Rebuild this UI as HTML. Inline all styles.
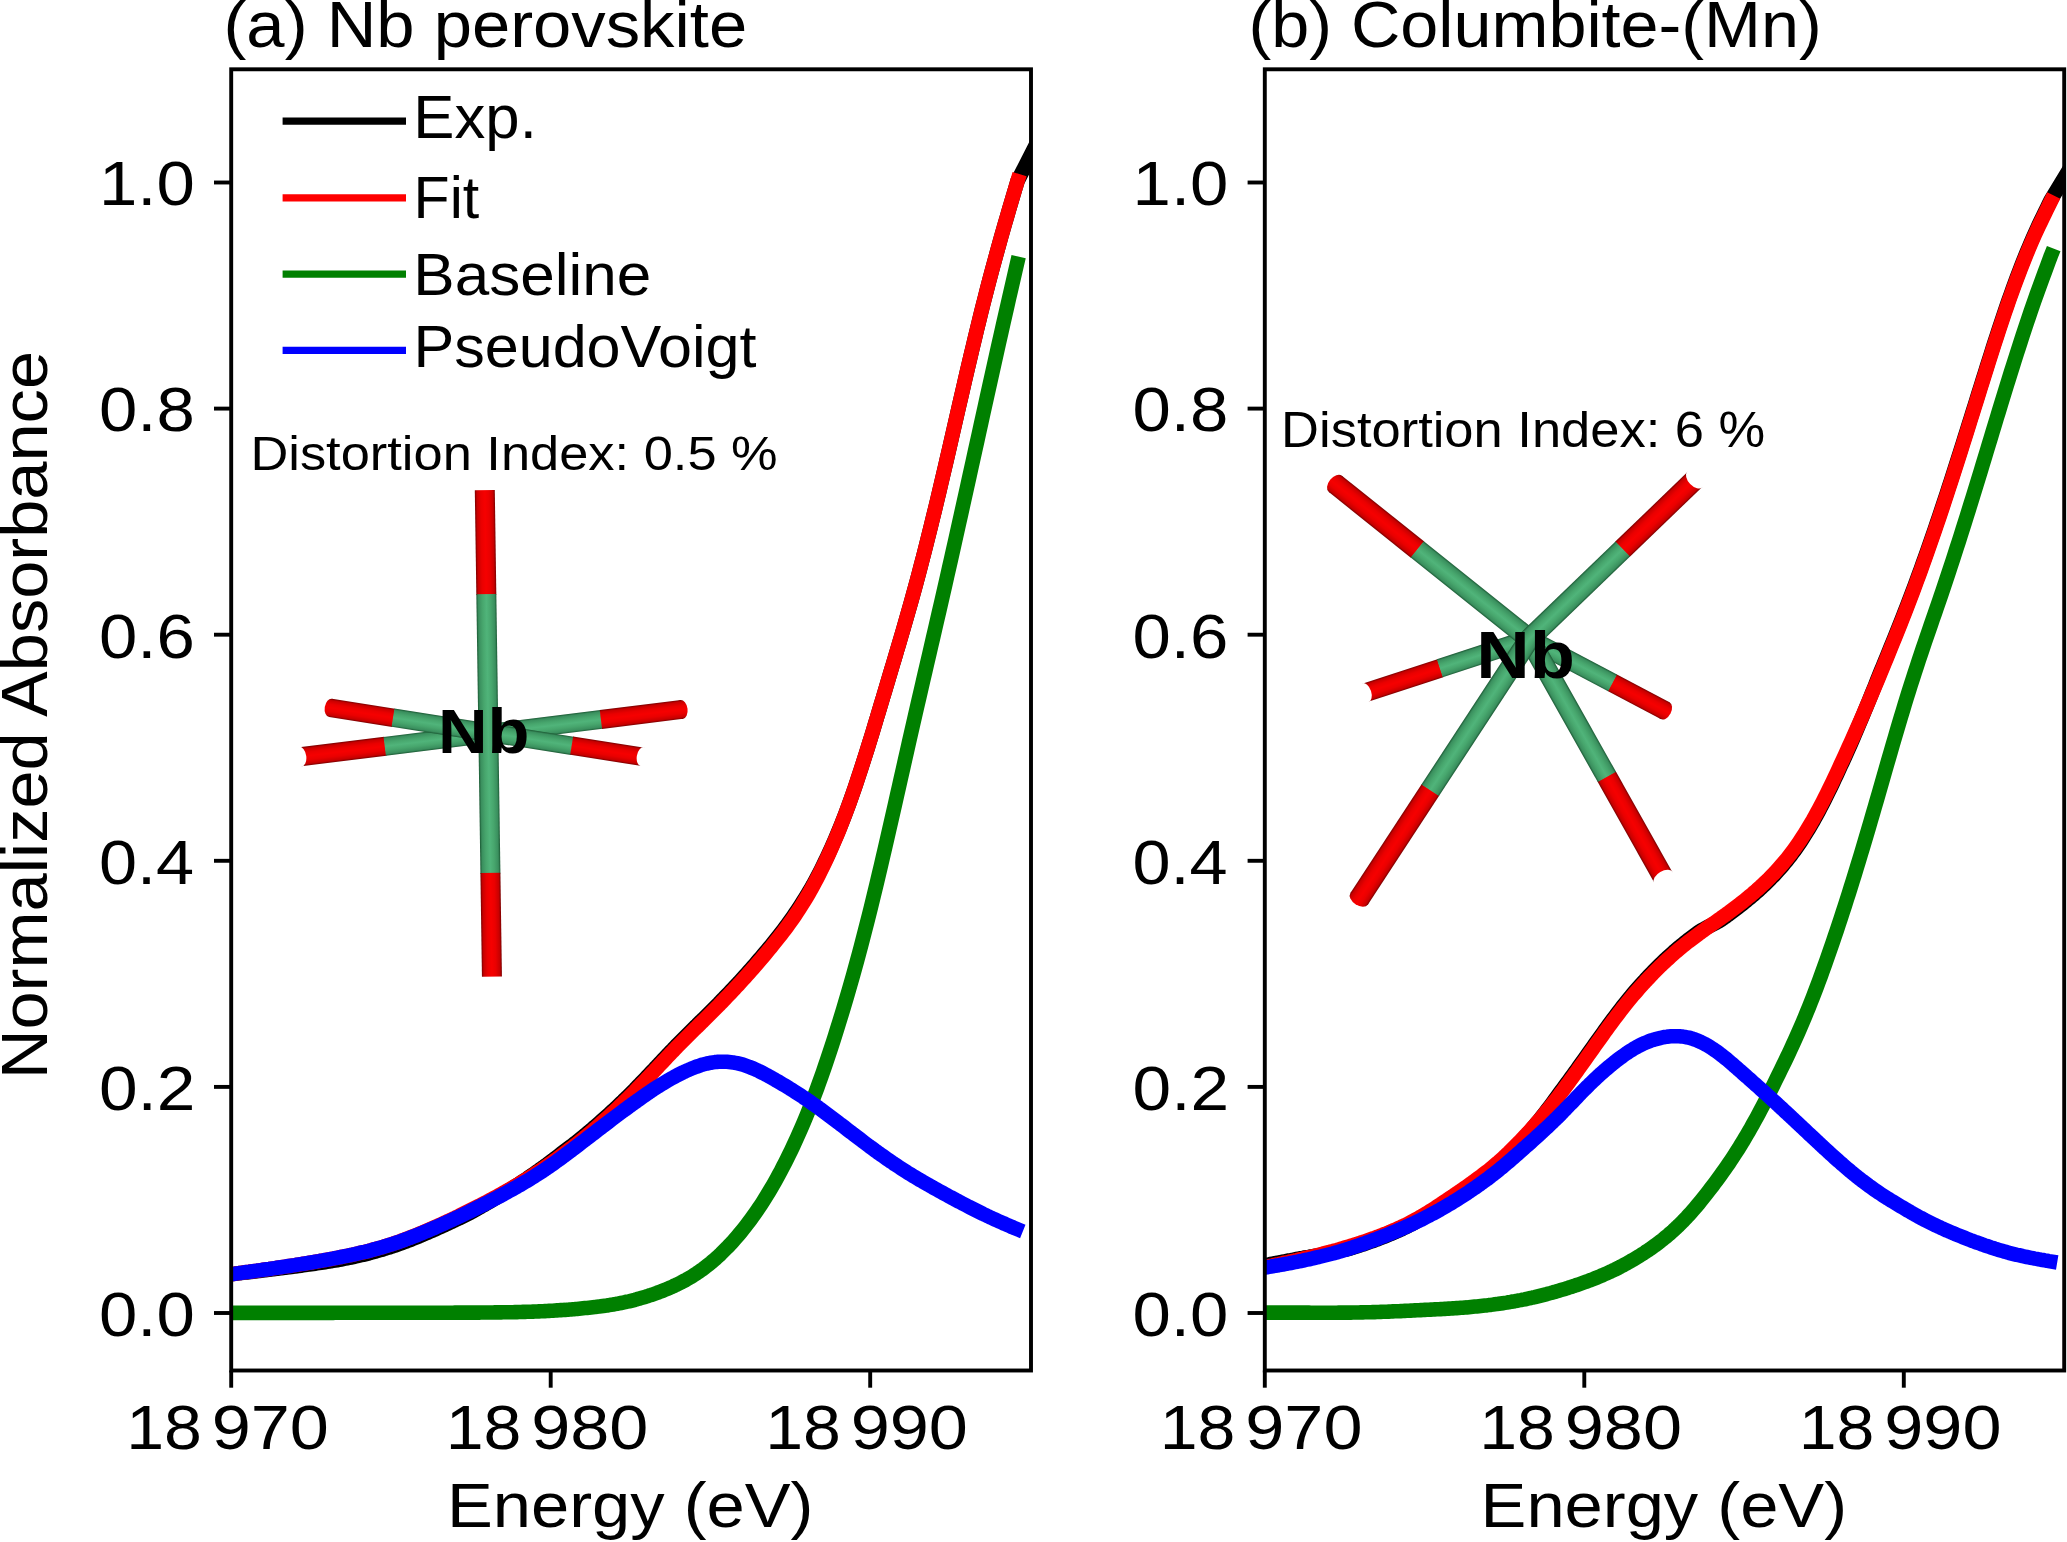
<!DOCTYPE html><html><head><meta charset="utf-8"><style>html,body{margin:0;padding:0;background:#fff;overflow:hidden}svg{display:block}text{font-family:"Liberation Sans",sans-serif;font-size:100px;fill:#000}</style></head><body>
<svg width="2067" height="1542" viewBox="0 0 2067 1542">
<rect width="100%" height="100%" fill="#fff"/>
<defs>
<linearGradient id="gr" x1="0" y1="0" x2="0" y2="1"><stop offset="0" stop-color="#7a0000"/><stop offset="0.1" stop-color="#c80000"/><stop offset="0.3" stop-color="#ea0000"/><stop offset="0.5" stop-color="#f60000"/><stop offset="0.7" stop-color="#ea0000"/><stop offset="0.9" stop-color="#c80000"/><stop offset="1" stop-color="#7a0000"/></linearGradient>
<linearGradient id="gg" x1="0" y1="0" x2="0" y2="1"><stop offset="0" stop-color="#1b5a34"/><stop offset="0.1" stop-color="#3a8f5e"/><stop offset="0.3" stop-color="#47a66d"/><stop offset="0.5" stop-color="#50b47a"/><stop offset="0.7" stop-color="#47a66d"/><stop offset="0.9" stop-color="#3a8f5e"/><stop offset="1" stop-color="#1b5a34"/></linearGradient>

<clipPath id="c0"><rect x="231.2" y="69.3" width="799.8" height="1301.2"/></clipPath>
<clipPath id="c1"><rect x="1264.8" y="69.3" width="799.4" height="1301.2"/></clipPath>
</defs>
<g transform="translate(300.2,756.8) rotate(-7.07)"><rect x="0.0" y="-9.5" width="85.8" height="19.0" fill="url(#gr)"/><rect x="85.2" y="-9.5" width="218.4" height="19.0" fill="url(#gg)"/><rect x="303.0" y="-9.5" width="81.8" height="19.0" fill="url(#gr)"/><ellipse cx="0.0" cy="0" rx="6.1" ry="10.0" fill="#fff"/><ellipse cx="384.2" cy="0" rx="6.1" ry="9.5" fill="url(#gr)"/></g>
<g transform="translate(330.6,707.9) rotate(8.90)"><rect x="0.0" y="-9.2" width="63.8" height="18.5" fill="url(#gr)"/><rect x="63.2" y="-9.2" width="181.4" height="18.5" fill="url(#gg)"/><rect x="244.0" y="-9.2" width="72.5" height="18.5" fill="url(#gr)"/><ellipse cx="0.0" cy="0" rx="5.9" ry="9.2" fill="url(#gr)"/><ellipse cx="315.9" cy="0" rx="5.9" ry="9.8" fill="#fff"/></g>
<g transform="translate(484.8,490.2) rotate(89.16)"><rect x="0.0" y="-10.0" width="104.6" height="20.0" fill="url(#gr)"/><rect x="104.0" y="-10.0" width="279.4" height="20.0" fill="url(#gg)"/><rect x="382.8" y="-10.0" width="103.6" height="20.0" fill="url(#gr)"/></g>
<g transform="translate(1365.2,692.8) rotate(-18.15)"><rect x="0.0" y="-9.5" width="79.1" height="19.0" fill="url(#gr)"/><rect x="78.5" y="-9.5" width="94.8" height="19.0" fill="url(#gg)"/><ellipse cx="0.0" cy="0" rx="6.1" ry="10.0" fill="#fff"/></g>
<g transform="translate(1665.1,710.7) rotate(-152.17)"><rect x="0.0" y="-9.5" width="60.0" height="19.0" fill="url(#gr)"/><rect x="59.4" y="-9.5" width="94.8" height="19.0" fill="url(#gg)"/><ellipse cx="0.0" cy="0" rx="6.1" ry="9.5" fill="url(#gr)"/></g>
<g transform="translate(1335.4,483.9) rotate(38.66)"><rect x="0.0" y="-10.5" width="105.4" height="21.0" fill="url(#gr)"/><rect x="104.8" y="-10.5" width="144.1" height="21.0" fill="url(#gg)"/><ellipse cx="0.0" cy="0" rx="6.7" ry="10.5" fill="url(#gr)"/></g>
<g transform="translate(1663.6,877.8) rotate(-119.35)"><rect x="0.0" y="-10.5" width="116.3" height="21.0" fill="url(#gr)"/><rect x="115.7" y="-10.5" width="158.9" height="21.0" fill="url(#gg)"/><ellipse cx="0.0" cy="0" rx="6.7" ry="11.0" fill="#fff"/></g>
<g transform="translate(1695.0,479.4) rotate(136.07)"><rect x="0.0" y="-10.5" width="100.9" height="21.0" fill="url(#gr)"/><rect x="100.3" y="-10.5" width="130.4" height="21.0" fill="url(#gg)"/><ellipse cx="0.0" cy="0" rx="6.7" ry="11.0" fill="#fff"/></g>
<g transform="translate(1359.2,898.7) rotate(-56.78)"><rect x="0.0" y="-10.5" width="130.2" height="21.0" fill="url(#gr)"/><rect x="129.6" y="-10.5" width="181.4" height="21.0" fill="url(#gg)"/><ellipse cx="0.0" cy="0" rx="6.7" ry="10.5" fill="url(#gr)"/></g>
<polyline clip-path="url(#c0)" points="231.0,1274.2 233.0,1274.0 235.0,1273.8 237.0,1273.5 239.0,1273.3 241.0,1273.1 243.0,1272.8 245.0,1272.6 247.0,1272.4 249.0,1272.2 251.0,1271.9 253.0,1271.7 255.0,1271.5 257.0,1271.2 259.0,1271.0 261.0,1270.7 263.0,1270.5 265.0,1270.3 267.0,1270.0 269.0,1269.8 271.0,1269.5 273.0,1269.3 275.0,1269.0 277.0,1268.8 279.0,1268.5 281.0,1268.3 283.0,1268.0 285.0,1267.8 287.0,1267.5 289.0,1267.3 291.0,1267.0 293.0,1266.7 295.0,1266.5 297.0,1266.2 299.0,1265.9 301.0,1265.7 303.0,1265.4 305.0,1265.1 307.0,1264.8 309.0,1264.6 311.0,1264.3 313.0,1264.0 315.0,1263.7 317.0,1263.4 319.0,1263.1 321.0,1262.8 323.0,1262.5 325.0,1262.2 327.0,1261.9 329.0,1261.6 331.0,1261.2 333.0,1260.9 335.0,1260.6 337.0,1260.3 339.0,1259.9 341.0,1259.5 343.0,1259.1 345.0,1258.7 347.0,1258.3 349.0,1257.9 351.0,1257.5 353.0,1257.1 355.0,1256.6 357.0,1256.2 359.0,1255.7 361.0,1255.2 363.0,1254.8 365.0,1254.3 367.0,1253.8 369.0,1253.3 371.0,1252.7 373.0,1252.2 375.0,1251.7 377.0,1251.1 379.0,1250.5 381.0,1250.0 383.0,1249.4 385.0,1248.7 387.0,1248.1 389.0,1247.5 391.0,1246.8 393.0,1246.2 395.0,1245.5 397.0,1244.8 399.0,1244.1 401.0,1243.4 403.0,1242.6 405.0,1241.9 407.0,1241.1 409.0,1240.4 411.0,1239.6 413.0,1238.8 415.0,1238.0 417.0,1237.2 419.0,1236.4 421.0,1235.5 423.0,1234.7 425.0,1233.8 427.0,1233.0 429.0,1232.1 431.0,1231.2 433.0,1230.4 435.0,1229.5 437.0,1228.6 439.0,1227.7 441.0,1226.8 443.0,1225.9 445.0,1225.0 447.0,1224.0 449.0,1223.1 451.0,1222.2 453.0,1221.2 455.0,1220.3 457.0,1219.3 459.0,1218.4 461.0,1217.4 463.0,1216.4 465.0,1215.4 467.0,1214.4 469.0,1213.4 471.0,1212.4 473.0,1211.3 475.0,1210.2 477.0,1209.0 479.0,1207.9 481.0,1206.8 483.0,1205.6 485.0,1204.5 487.0,1203.3 489.0,1202.2 491.0,1201.0 493.0,1199.8 495.0,1198.6 497.0,1197.4 499.0,1196.2 501.0,1195.0 503.0,1193.8 505.0,1192.6 507.0,1191.4 509.0,1190.1 511.0,1188.9 513.0,1187.6 515.0,1186.3 517.0,1185.0 519.0,1183.8 521.0,1182.4 523.0,1181.1 525.0,1179.8 527.0,1178.5 529.0,1177.1 531.0,1175.7 533.0,1174.4 535.0,1173.0 537.0,1171.6 539.0,1170.2 541.0,1168.7 543.0,1167.3 545.0,1165.8 547.0,1164.4 549.0,1162.9 551.0,1161.4 553.0,1159.9 555.0,1158.3 557.0,1156.8 559.0,1155.3 561.0,1153.7 563.0,1152.2 565.0,1150.7 567.0,1149.2 569.0,1147.7 571.0,1146.2 573.0,1144.6 575.0,1143.0 577.0,1141.5 579.0,1139.9 581.0,1138.2 583.0,1136.6 585.0,1135.0 587.0,1133.3 589.0,1131.6 591.0,1130.0 593.0,1128.3 595.0,1126.5 597.0,1124.8 599.0,1123.1 601.0,1121.3 603.0,1119.5 605.0,1117.7 607.0,1115.9 609.0,1114.1 611.0,1112.3 613.0,1110.4 615.0,1108.6 617.0,1106.7 619.0,1104.8 621.0,1102.9 623.0,1101.0 625.0,1099.0 627.0,1097.1 629.0,1095.1 631.0,1093.1 633.0,1091.1 635.0,1089.1 637.0,1087.0 639.0,1085.0 641.0,1082.9 643.0,1080.8 645.0,1078.7 647.0,1076.6 649.0,1074.5 651.0,1072.4 653.0,1070.3 655.0,1068.1 657.0,1066.0 659.0,1063.8 661.0,1061.7 663.0,1059.6 665.0,1057.5 667.0,1055.3 669.0,1053.2 671.0,1051.1 673.0,1049.1 675.0,1047.0 677.0,1044.9 679.0,1042.9 681.0,1040.9 683.0,1038.9 685.0,1036.9 687.0,1034.9 689.0,1032.9 691.0,1030.9 693.0,1028.9 695.0,1026.9 697.0,1025.0 699.0,1023.0 701.0,1021.0 703.0,1019.1 705.0,1017.1 707.0,1015.1 709.0,1013.1 711.0,1011.1 713.0,1009.1 715.0,1007.1 717.0,1005.1 719.0,1003.1 721.0,1001.0 723.0,999.0 725.0,996.9 727.0,994.8 729.0,992.7 731.0,990.6 733.0,988.5 735.0,986.4 737.0,984.2 739.0,982.1 741.0,979.9 743.0,977.7 745.0,975.5 747.0,973.2 749.0,971.0 751.0,968.7 753.0,966.5 755.0,964.2 757.0,961.9 759.0,959.5 761.0,957.2 763.0,954.9 765.0,952.5 767.0,950.1 769.0,947.7 771.0,945.3 773.0,942.8 775.0,940.3 777.0,937.8 779.0,935.3 781.0,932.7 783.0,930.1 785.0,927.5 787.0,924.8 789.0,922.0 791.0,919.2 793.0,916.4 795.0,913.5 797.0,910.5 799.0,907.5 801.0,904.4 803.0,901.3 805.0,898.1 807.0,894.9 809.0,891.5 811.0,888.1 813.0,884.6 815.0,880.9 817.0,877.2 819.0,873.4 821.0,869.5 823.0,865.4 825.0,861.3 827.0,857.2 829.0,852.9 831.0,848.5 833.0,844.0 835.0,839.4 837.0,834.7 839.0,829.9 841.0,825.0 843.0,820.0 845.0,814.8 847.0,809.5 849.0,804.1 851.0,798.6 853.0,792.9 855.0,787.1 857.0,781.2 859.0,775.1 861.0,769.0 863.0,762.8 865.0,756.6 867.0,750.2 869.0,743.8 871.0,737.3 873.0,730.8 875.0,724.2 877.0,717.5 879.0,710.9 881.0,704.2 883.0,697.5 885.0,690.8 887.0,684.1 889.0,677.4 891.0,670.7 893.0,664.0 895.0,657.3 897.0,650.5 899.0,643.8 901.0,637.0 903.0,630.2 905.0,623.3 907.0,616.3 909.0,609.3 911.0,602.2 913.0,595.0 915.0,587.7 917.0,580.3 919.0,572.8 921.0,565.2 923.0,557.5 925.0,549.7 927.0,541.8 929.0,533.8 931.0,525.8 933.0,517.6 935.0,509.4 937.0,501.1 939.0,492.7 941.0,484.2 943.0,475.7 945.0,467.1 947.0,458.5 949.0,449.8 951.0,441.1 953.0,432.4 955.0,423.6 957.0,414.9 959.0,406.2 961.0,397.5 963.0,388.8 965.0,380.1 967.0,371.5 969.0,363.0 971.0,354.5 973.0,346.1 975.0,337.7 977.0,329.4 979.0,321.2 981.0,313.1 983.0,305.1 985.0,297.2 987.0,289.4 989.0,281.7 991.0,274.1 993.0,266.7 995.0,259.3 997.0,252.0 999.0,244.7 1001.0,237.6 1003.0,230.6 1005.0,223.6 1007.0,216.7 1009.0,209.8 1011.0,203.0 1013.0,196.2 1015.0,189.5 1017.0,182.8 1017.5,181.1 1045.0,127.0" fill="none" stroke="#000" stroke-width="14.6" stroke-linejoin="round" stroke-linecap="square"/>
<polyline clip-path="url(#c0)" points="231.0,1274.2 233.0,1274.0 235.0,1273.7 237.0,1273.4 239.0,1273.1 241.0,1272.9 243.0,1272.6 245.0,1272.3 247.0,1272.0 249.0,1271.8 251.0,1271.5 253.0,1271.2 255.0,1270.9 257.0,1270.7 259.0,1270.4 261.0,1270.1 263.0,1269.8 265.0,1269.5 267.0,1269.2 269.0,1269.0 271.0,1268.7 273.0,1268.4 275.0,1268.1 277.0,1267.8 279.0,1267.5 281.0,1267.2 283.0,1266.9 285.0,1266.6 287.0,1266.3 289.0,1266.0 291.0,1265.7 293.0,1265.4 295.0,1265.1 297.0,1264.8 299.0,1264.5 301.0,1264.1 303.0,1263.8 305.0,1263.5 307.0,1263.2 309.0,1262.8 311.0,1262.5 313.0,1262.2 315.0,1261.8 317.0,1261.5 319.0,1261.1 321.0,1260.8 323.0,1260.4 325.0,1260.1 327.0,1259.7 329.0,1259.3 331.0,1259.0 333.0,1258.6 335.0,1258.2 337.0,1257.8 339.0,1257.4 341.0,1257.0 343.0,1256.6 345.0,1256.2 347.0,1255.8 349.0,1255.4 351.0,1255.0 353.0,1254.6 355.0,1254.1 357.0,1253.7 359.0,1253.2 361.0,1252.7 363.0,1252.3 365.0,1251.8 367.0,1251.3 369.0,1250.8 371.0,1250.2 373.0,1249.7 375.0,1249.2 377.0,1248.6 379.0,1248.0 381.0,1247.5 383.0,1246.9 385.0,1246.2 387.0,1245.6 389.0,1245.0 391.0,1244.3 393.0,1243.7 395.0,1243.0 397.0,1242.3 399.0,1241.6 401.0,1240.9 403.0,1240.1 405.0,1239.4 407.0,1238.6 409.0,1237.9 411.0,1237.1 413.0,1236.3 415.0,1235.5 417.0,1234.7 419.0,1233.9 421.0,1233.0 423.0,1232.2 425.0,1231.3 427.0,1230.5 429.0,1229.6 431.0,1228.7 433.0,1227.9 435.0,1227.0 437.0,1226.1 439.0,1225.2 441.0,1224.3 443.0,1223.4 445.0,1222.5 447.0,1221.5 449.0,1220.6 451.0,1219.7 453.0,1218.7 455.0,1217.8 457.0,1216.8 459.0,1215.9 461.0,1214.9 463.0,1213.9 465.0,1212.9 467.0,1211.9 469.0,1210.9 471.0,1209.9 473.0,1208.9 475.0,1207.9 477.0,1206.9 479.0,1205.9 481.0,1204.8 483.0,1203.8 485.0,1202.7 487.0,1201.7 489.0,1200.6 491.0,1199.6 493.0,1198.5 495.0,1197.4 497.0,1196.3 499.0,1195.2 501.0,1194.1 503.0,1193.0 505.0,1191.8 507.0,1190.7 509.0,1189.6 511.0,1188.4 513.0,1187.3 515.0,1186.1 517.0,1184.9 519.0,1183.7 521.0,1182.5 523.0,1181.3 525.0,1180.1 527.0,1178.8 529.0,1177.6 531.0,1176.3 533.0,1175.0 535.0,1173.7 537.0,1172.4 539.0,1171.1 541.0,1169.8 543.0,1168.4 545.0,1167.1 547.0,1165.7 549.0,1164.3 551.0,1162.9 553.0,1161.5 555.0,1160.1 557.0,1158.7 559.0,1157.2 561.0,1155.7 563.0,1154.2 565.0,1152.7 567.0,1151.2 569.0,1149.7 571.0,1148.2 573.0,1146.6 575.0,1145.0 577.0,1143.5 579.0,1141.9 581.0,1140.2 583.0,1138.6 585.0,1137.0 587.0,1135.3 589.0,1133.6 591.0,1132.0 593.0,1130.3 595.0,1128.5 597.0,1126.8 599.0,1125.1 601.0,1123.3 603.0,1121.5 605.0,1119.7 607.0,1117.9 609.0,1116.1 611.0,1114.3 613.0,1112.4 615.0,1110.6 617.0,1108.7 619.0,1106.8 621.0,1104.9 623.0,1103.0 625.0,1101.0 627.0,1099.1 629.0,1097.1 631.0,1095.1 633.0,1093.1 635.0,1091.1 637.0,1089.0 639.0,1087.0 641.0,1084.9 643.0,1082.8 645.0,1080.7 647.0,1078.6 649.0,1076.5 651.0,1074.4 653.0,1072.3 655.0,1070.1 657.0,1068.0 659.0,1065.8 661.0,1063.7 663.0,1061.6 665.0,1059.5 667.0,1057.3 669.0,1055.2 671.0,1053.1 673.0,1051.1 675.0,1049.0 677.0,1046.9 679.0,1044.9 681.0,1042.9 683.0,1040.9 685.0,1038.9 687.0,1036.9 689.0,1034.9 691.0,1032.9 693.0,1030.9 695.0,1028.9 697.0,1027.0 699.0,1025.0 701.0,1023.0 703.0,1021.1 705.0,1019.1 707.0,1017.1 709.0,1015.1 711.0,1013.1 713.0,1011.1 715.0,1009.1 717.0,1007.1 719.0,1005.1 721.0,1003.0 723.0,1001.0 725.0,998.9 727.0,996.8 729.0,994.7 731.0,992.6 733.0,990.5 735.0,988.4 737.0,986.2 739.0,984.1 741.0,981.9 743.0,979.7 745.0,977.5 747.0,975.2 749.0,973.0 751.0,970.7 753.0,968.5 755.0,966.2 757.0,963.9 759.0,961.5 761.0,959.2 763.0,956.9 765.0,954.5 767.0,952.1 769.0,949.7 771.0,947.3 773.0,944.8 775.0,942.3 777.0,939.8 779.0,937.3 781.0,934.7 783.0,932.1 785.0,929.5 787.0,926.8 789.0,924.0 791.0,921.2 793.0,918.4 795.0,915.5 797.0,912.5 799.0,909.5 801.0,906.4 803.0,903.2 805.0,899.9 807.0,896.6 809.0,893.2 811.0,889.7 813.0,886.0 815.0,882.3 817.0,878.5 819.0,874.6 821.0,870.6 823.0,866.5 825.0,862.3 827.0,858.1 829.0,853.7 831.0,849.3 833.0,844.7 835.0,840.0 837.0,835.3 839.0,830.4 841.0,825.4 843.0,820.2 845.0,815.0 847.0,809.7 849.0,804.2 851.0,798.6 853.0,792.9 855.0,787.1 857.0,781.2 859.0,775.1 861.0,769.0 863.0,762.8 865.0,756.6 867.0,750.2 869.0,743.8 871.0,737.3 873.0,730.8 875.0,724.2 877.0,717.5 879.0,710.9 881.0,704.2 883.0,697.5 885.0,690.8 887.0,684.1 889.0,677.4 891.0,670.7 893.0,664.0 895.0,657.3 897.0,650.5 899.0,643.8 901.0,637.0 903.0,630.2 905.0,623.3 907.0,616.3 909.0,609.3 911.0,602.2 913.0,595.0 915.0,587.7 917.0,580.3 919.0,572.8 921.0,565.2 923.0,557.5 925.0,549.7 927.0,541.8 929.0,533.8 931.0,525.8 933.0,517.6 935.0,509.4 937.0,501.1 939.0,492.7 941.0,484.2 943.0,475.7 945.0,467.1 947.0,458.5 949.0,449.8 951.0,441.1 953.0,432.4 955.0,423.6 957.0,414.9 959.0,406.2 961.0,397.5 963.0,388.8 965.0,380.1 967.0,371.5 969.0,363.0 971.0,354.5 973.0,346.1 975.0,337.7 977.0,329.4 979.0,321.2 981.0,313.1 983.0,305.1 985.0,297.2 987.0,289.4 989.0,281.7 991.0,274.1 993.0,266.7 995.0,259.3 997.0,252.0 999.0,244.7 1001.0,237.6 1003.0,230.6 1005.0,223.6 1007.0,216.7 1009.0,209.8 1011.0,203.0 1013.0,196.2 1015.0,189.5 1017.0,182.8 1017.5,181.1" fill="none" stroke="#f00" stroke-width="14.6" stroke-linejoin="round" stroke-linecap="square"/>
<polyline clip-path="url(#c0)" points="231.0,1312.9 233.0,1312.9 235.0,1312.9 237.0,1312.9 239.0,1312.9 241.0,1312.9 243.0,1312.9 245.0,1312.9 247.0,1312.9 249.0,1312.9 251.0,1312.9 253.0,1312.9 255.0,1312.9 257.0,1312.9 259.0,1312.9 261.0,1312.9 263.0,1312.9 265.0,1312.9 267.0,1312.9 269.0,1312.9 271.0,1312.9 273.0,1312.9 275.0,1312.9 277.0,1312.9 279.0,1312.9 281.0,1312.9 283.0,1312.9 285.0,1312.9 287.0,1312.9 289.0,1312.9 291.0,1312.9 293.0,1312.9 295.0,1312.9 297.0,1312.9 299.0,1312.9 301.0,1312.9 303.0,1312.9 305.0,1312.9 307.0,1312.9 309.0,1312.9 311.0,1312.9 313.0,1312.9 315.0,1312.9 317.0,1312.9 319.0,1312.9 321.0,1312.9 323.0,1312.9 325.0,1312.9 327.0,1312.9 329.0,1312.9 331.0,1312.9 333.0,1312.9 335.0,1312.8 337.0,1312.8 339.0,1312.8 341.0,1312.8 343.0,1312.8 345.0,1312.8 347.0,1312.8 349.0,1312.8 351.0,1312.8 353.0,1312.8 355.0,1312.8 357.0,1312.8 359.0,1312.8 361.0,1312.8 363.0,1312.8 365.0,1312.8 367.0,1312.8 369.0,1312.8 371.0,1312.8 373.0,1312.8 375.0,1312.8 377.0,1312.8 379.0,1312.8 381.0,1312.8 383.0,1312.8 385.0,1312.8 387.0,1312.8 389.0,1312.8 391.0,1312.7 393.0,1312.7 395.0,1312.7 397.0,1312.7 399.0,1312.7 401.0,1312.7 403.0,1312.7 405.0,1312.7 407.0,1312.7 409.0,1312.7 411.0,1312.7 413.0,1312.7 415.0,1312.7 417.0,1312.7 419.0,1312.7 421.0,1312.7 423.0,1312.7 425.0,1312.7 427.0,1312.7 429.0,1312.7 431.0,1312.7 433.0,1312.7 435.0,1312.7 437.0,1312.7 439.0,1312.7 441.0,1312.7 443.0,1312.7 445.0,1312.7 447.0,1312.7 449.0,1312.7 451.0,1312.7 453.0,1312.7 455.0,1312.6 457.0,1312.6 459.0,1312.6 461.0,1312.6 463.0,1312.6 465.0,1312.6 467.0,1312.6 469.0,1312.6 471.0,1312.6 473.0,1312.6 475.0,1312.6 477.0,1312.6 479.0,1312.6 481.0,1312.5 483.0,1312.5 485.0,1312.5 487.0,1312.5 489.0,1312.5 491.0,1312.5 493.0,1312.5 495.0,1312.4 497.0,1312.4 499.0,1312.4 501.0,1312.4 503.0,1312.3 505.0,1312.3 507.0,1312.3 509.0,1312.3 511.0,1312.2 513.0,1312.2 515.0,1312.1 517.0,1312.1 519.0,1312.0 521.0,1312.0 523.0,1311.9 525.0,1311.9 527.0,1311.8 529.0,1311.8 531.0,1311.7 533.0,1311.6 535.0,1311.5 537.0,1311.5 539.0,1311.4 541.0,1311.3 543.0,1311.2 545.0,1311.1 547.0,1311.0 549.0,1310.9 551.0,1310.8 553.0,1310.7 555.0,1310.5 557.0,1310.4 559.0,1310.3 561.0,1310.1 563.0,1310.0 565.0,1309.9 567.0,1309.7 569.0,1309.6 571.0,1309.4 573.0,1309.2 575.0,1309.1 577.0,1308.9 579.0,1308.7 581.0,1308.5 583.0,1308.3 585.0,1308.1 587.0,1307.9 589.0,1307.7 591.0,1307.5 593.0,1307.3 595.0,1307.1 597.0,1306.8 599.0,1306.6 601.0,1306.3 603.0,1306.0 605.0,1305.7 607.0,1305.5 609.0,1305.1 611.0,1304.8 613.0,1304.5 615.0,1304.1 617.0,1303.8 619.0,1303.4 621.0,1303.0 623.0,1302.6 625.0,1302.2 627.0,1301.7 629.0,1301.3 631.0,1300.8 633.0,1300.3 635.0,1299.8 637.0,1299.2 639.0,1298.7 641.0,1298.1 643.0,1297.5 645.0,1296.9 647.0,1296.3 649.0,1295.6 651.0,1295.0 653.0,1294.3 655.0,1293.6 657.0,1292.9 659.0,1292.1 661.0,1291.4 663.0,1290.6 665.0,1289.8 667.0,1289.0 669.0,1288.1 671.0,1287.3 673.0,1286.4 675.0,1285.4 677.0,1284.5 679.0,1283.5 681.0,1282.5 683.0,1281.4 685.0,1280.4 687.0,1279.2 689.0,1278.1 691.0,1276.9 693.0,1275.7 695.0,1274.4 697.0,1273.1 699.0,1271.7 701.0,1270.3 703.0,1268.9 705.0,1267.4 707.0,1265.8 709.0,1264.2 711.0,1262.6 713.0,1260.9 715.0,1259.2 717.0,1257.4 719.0,1255.6 721.0,1253.7 723.0,1251.7 725.0,1249.7 727.0,1247.7 729.0,1245.6 731.0,1243.5 733.0,1241.3 735.0,1239.0 737.0,1236.7 739.0,1234.4 741.0,1232.0 743.0,1229.5 745.0,1227.0 747.0,1224.4 749.0,1221.8 751.0,1219.1 753.0,1216.3 755.0,1213.5 757.0,1210.6 759.0,1207.7 761.0,1204.7 763.0,1201.6 765.0,1198.4 767.0,1195.2 769.0,1191.9 771.0,1188.5 773.0,1185.1 775.0,1181.6 777.0,1178.0 779.0,1174.3 781.0,1170.6 783.0,1166.7 785.0,1162.8 787.0,1158.9 789.0,1154.8 791.0,1150.7 793.0,1146.5 795.0,1142.2 797.0,1137.8 799.0,1133.3 801.0,1128.8 803.0,1124.1 805.0,1119.4 807.0,1114.5 809.0,1109.5 811.0,1104.5 813.0,1099.3 815.0,1094.0 817.0,1088.6 819.0,1083.1 821.0,1077.5 823.0,1071.8 825.0,1066.0 827.0,1060.1 829.0,1054.1 831.0,1048.1 833.0,1041.9 835.0,1035.7 837.0,1029.3 839.0,1022.9 841.0,1016.4 843.0,1009.9 845.0,1003.2 847.0,996.4 849.0,989.5 851.0,982.5 853.0,975.5 855.0,968.3 857.0,961.0 859.0,953.6 861.0,946.1 863.0,938.4 865.0,930.7 867.0,922.9 869.0,914.9 871.0,906.9 873.0,898.8 875.0,890.5 877.0,882.2 879.0,873.8 881.0,865.3 883.0,856.7 885.0,848.1 887.0,839.4 889.0,830.7 891.0,821.9 893.0,813.1 895.0,804.3 897.0,795.4 899.0,786.6 901.0,777.7 903.0,768.8 905.0,759.9 907.0,751.1 909.0,742.2 911.0,733.4 913.0,724.7 915.0,715.9 917.0,707.2 919.0,698.5 921.0,689.8 923.0,681.1 925.0,672.5 927.0,663.9 929.0,655.3 931.0,646.7 933.0,638.0 935.0,629.4 937.0,620.7 939.0,612.0 941.0,603.3 943.0,594.6 945.0,585.8 947.0,577.0 949.0,568.1 951.0,559.3 953.0,550.4 955.0,541.5 957.0,532.5 959.0,523.5 961.0,514.6 963.0,505.5 965.0,496.5 967.0,487.5 969.0,478.4 971.0,469.3 973.0,460.2 975.0,451.2 977.0,442.1 979.0,433.0 981.0,423.9 983.0,414.8 985.0,405.7 987.0,396.7 989.0,387.6 991.0,378.6 993.0,369.6 995.0,360.6 997.0,351.6 999.0,342.7 1001.0,333.8 1003.0,324.9 1005.0,316.1 1007.0,307.3 1009.0,298.5 1011.0,289.8 1013.0,281.1 1015.0,272.4 1017.0,263.7" fill="none" stroke="#008000" stroke-width="14.6" stroke-linejoin="round" stroke-linecap="square"/>
<polyline clip-path="url(#c0)" points="231.0,1274.2 233.0,1273.9 235.0,1273.7 237.0,1273.4 239.0,1273.1 241.0,1272.9 243.0,1272.6 245.0,1272.3 247.0,1272.0 249.0,1271.8 251.0,1271.5 253.0,1271.2 255.0,1270.9 257.0,1270.6 259.0,1270.4 261.0,1270.1 263.0,1269.8 265.0,1269.5 267.0,1269.2 269.0,1269.0 271.0,1268.7 273.0,1268.4 275.0,1268.1 277.0,1267.8 279.0,1267.5 281.0,1267.2 283.0,1266.9 285.0,1266.6 287.0,1266.3 289.0,1266.0 291.0,1265.7 293.0,1265.4 295.0,1265.1 297.0,1264.7 299.0,1264.4 301.0,1264.1 303.0,1263.8 305.0,1263.5 307.0,1263.1 309.0,1262.8 311.0,1262.5 313.0,1262.1 315.0,1261.8 317.0,1261.4 319.0,1261.1 321.0,1260.7 323.0,1260.4 325.0,1260.0 327.0,1259.7 329.0,1259.3 331.0,1258.9 333.0,1258.6 335.0,1258.2 337.0,1257.8 339.0,1257.4 341.0,1257.0 343.0,1256.6 345.0,1256.2 347.0,1255.8 349.0,1255.4 351.0,1255.0 353.0,1254.5 355.0,1254.1 357.0,1253.6 359.0,1253.2 361.0,1252.7 363.0,1252.2 365.0,1251.8 367.0,1251.3 369.0,1250.8 371.0,1250.3 373.0,1249.7 375.0,1249.2 377.0,1248.7 379.0,1248.1 381.0,1247.5 383.0,1246.9 385.0,1246.3 387.0,1245.7 389.0,1245.1 391.0,1244.5 393.0,1243.8 395.0,1243.2 397.0,1242.5 399.0,1241.8 401.0,1241.1 403.0,1240.4 405.0,1239.6 407.0,1238.9 409.0,1238.2 411.0,1237.4 413.0,1236.6 415.0,1235.9 417.0,1235.1 419.0,1234.3 421.0,1233.5 423.0,1232.6 425.0,1231.8 427.0,1231.0 429.0,1230.1 431.0,1229.3 433.0,1228.4 435.0,1227.6 437.0,1226.7 439.0,1225.8 441.0,1224.9 443.0,1224.0 445.0,1223.1 447.0,1222.2 449.0,1221.3 451.0,1220.4 453.0,1219.5 455.0,1218.5 457.0,1217.6 459.0,1216.7 461.0,1215.7 463.0,1214.8 465.0,1213.8 467.0,1212.8 469.0,1211.9 471.0,1210.9 473.0,1209.9 475.0,1208.9 477.0,1207.9 479.0,1206.9 481.0,1205.9 483.0,1204.9 485.0,1203.9 487.0,1202.9 489.0,1201.8 491.0,1200.8 493.0,1199.8 495.0,1198.7 497.0,1197.7 499.0,1196.6 501.0,1195.6 503.0,1194.5 505.0,1193.4 507.0,1192.3 509.0,1191.2 511.0,1190.1 513.0,1189.0 515.0,1187.9 517.0,1186.8 519.0,1185.6 521.0,1184.5 523.0,1183.3 525.0,1182.1 527.0,1180.9 529.0,1179.7 531.0,1178.5 533.0,1177.2 535.0,1176.0 537.0,1174.7 539.0,1173.4 541.0,1172.1 543.0,1170.8 545.0,1169.4 547.0,1168.1 549.0,1166.7 551.0,1165.3 553.0,1163.9 555.0,1162.5 557.0,1161.0 559.0,1159.6 561.0,1158.1 563.0,1156.6 565.0,1155.2 567.0,1153.7 569.0,1152.2 571.0,1150.7 573.0,1149.1 575.0,1147.6 577.0,1146.1 579.0,1144.6 581.0,1143.0 583.0,1141.5 585.0,1140.0 587.0,1138.4 589.0,1136.9 591.0,1135.4 593.0,1133.8 595.0,1132.3 597.0,1130.7 599.0,1129.2 601.0,1127.7 603.0,1126.1 605.0,1124.6 607.0,1123.1 609.0,1121.6 611.0,1120.0 613.0,1118.5 615.0,1117.0 617.0,1115.5 619.0,1114.0 621.0,1112.5 623.0,1111.0 625.0,1109.6 627.0,1108.1 629.0,1106.6 631.0,1105.2 633.0,1103.7 635.0,1102.3 637.0,1100.8 639.0,1099.4 641.0,1098.0 643.0,1096.6 645.0,1095.2 647.0,1093.8 649.0,1092.4 651.0,1091.1 653.0,1089.7 655.0,1088.4 657.0,1087.1 659.0,1085.9 661.0,1084.6 663.0,1083.4 665.0,1082.2 667.0,1081.0 669.0,1079.8 671.0,1078.7 673.0,1077.6 675.0,1076.5 677.0,1075.4 679.0,1074.4 681.0,1073.4 683.0,1072.4 685.0,1071.5 687.0,1070.5 689.0,1069.7 691.0,1068.8 693.0,1068.0 695.0,1067.2 697.0,1066.5 699.0,1065.8 701.0,1065.1 703.0,1064.5 705.0,1064.0 707.0,1063.5 709.0,1063.1 711.0,1062.7 713.0,1062.4 715.0,1062.1 717.0,1061.9 719.0,1061.8 721.0,1061.7 723.0,1061.7 725.0,1061.7 727.0,1061.8 729.0,1062.0 731.0,1062.2 733.0,1062.4 735.0,1062.8 737.0,1063.2 739.0,1063.7 741.0,1064.2 743.0,1064.7 745.0,1065.4 747.0,1066.1 749.0,1066.8 751.0,1067.6 753.0,1068.4 755.0,1069.2 757.0,1070.2 759.0,1071.1 761.0,1072.1 763.0,1073.1 765.0,1074.2 767.0,1075.2 769.0,1076.3 771.0,1077.4 773.0,1078.6 775.0,1079.7 777.0,1080.9 779.0,1082.0 781.0,1083.2 783.0,1084.4 785.0,1085.6 787.0,1086.8 789.0,1088.0 791.0,1089.3 793.0,1090.5 795.0,1091.8 797.0,1093.1 799.0,1094.4 801.0,1095.7 803.0,1097.0 805.0,1098.4 807.0,1099.7 809.0,1101.1 811.0,1102.5 813.0,1103.9 815.0,1105.3 817.0,1106.7 819.0,1108.2 821.0,1109.6 823.0,1111.1 825.0,1112.6 827.0,1114.1 829.0,1115.6 831.0,1117.1 833.0,1118.6 835.0,1120.1 837.0,1121.6 839.0,1123.1 841.0,1124.7 843.0,1126.2 845.0,1127.7 847.0,1129.3 849.0,1130.8 851.0,1132.3 853.0,1133.9 855.0,1135.4 857.0,1136.9 859.0,1138.4 861.0,1139.9 863.0,1141.5 865.0,1143.0 867.0,1144.5 869.0,1146.0 871.0,1147.4 873.0,1148.9 875.0,1150.4 877.0,1151.8 879.0,1153.3 881.0,1154.7 883.0,1156.1 885.0,1157.5 887.0,1158.9 889.0,1160.3 891.0,1161.7 893.0,1163.0 895.0,1164.4 897.0,1165.7 899.0,1167.0 901.0,1168.3 903.0,1169.6 905.0,1170.9 907.0,1172.2 909.0,1173.4 911.0,1174.6 913.0,1175.9 915.0,1177.1 917.0,1178.3 919.0,1179.5 921.0,1180.6 923.0,1181.8 925.0,1182.9 927.0,1184.1 929.0,1185.2 931.0,1186.3 933.0,1187.5 935.0,1188.6 937.0,1189.7 939.0,1190.8 941.0,1191.9 943.0,1193.0 945.0,1194.1 947.0,1195.2 949.0,1196.3 951.0,1197.4 953.0,1198.4 955.0,1199.5 957.0,1200.6 959.0,1201.6 961.0,1202.7 963.0,1203.8 965.0,1204.8 967.0,1205.8 969.0,1206.9 971.0,1207.9 973.0,1208.9 975.0,1209.9 977.0,1210.9 979.0,1211.9 981.0,1212.9 983.0,1213.9 985.0,1214.8 987.0,1215.8 989.0,1216.7 991.0,1217.7 993.0,1218.6 995.0,1219.5 997.0,1220.4 999.0,1221.3 1001.0,1222.2 1003.0,1223.1 1005.0,1223.9 1007.0,1224.8 1009.0,1225.7 1011.0,1226.6 1013.0,1227.4 1015.0,1228.3 1016.0,1228.7" fill="none" stroke="#00f" stroke-width="14.6" stroke-linejoin="round" stroke-linecap="square"/>
<polyline clip-path="url(#c1)" points="1264.8,1265.1 1266.8,1264.7 1268.8,1264.4 1270.8,1264.0 1272.8,1263.6 1274.8,1263.2 1276.8,1262.8 1278.8,1262.5 1280.8,1262.1 1282.8,1261.7 1284.8,1261.3 1286.8,1260.9 1288.8,1260.5 1290.8,1260.2 1292.8,1259.8 1294.8,1259.4 1296.8,1259.0 1298.8,1258.6 1300.8,1258.2 1302.8,1257.9 1304.8,1257.5 1306.8,1257.2 1308.8,1256.9 1310.8,1256.5 1312.8,1256.2 1314.8,1255.8 1316.8,1255.5 1318.8,1255.1 1320.8,1254.7 1322.8,1254.3 1324.8,1254.0 1326.8,1253.6 1328.8,1253.2 1330.8,1252.8 1332.8,1252.4 1334.8,1251.9 1336.8,1251.5 1338.8,1251.1 1340.8,1250.7 1342.8,1250.2 1344.8,1249.8 1346.8,1249.3 1348.8,1248.8 1350.8,1248.3 1352.8,1247.7 1354.8,1247.1 1356.8,1246.4 1358.8,1245.8 1360.8,1245.1 1362.8,1244.5 1364.8,1243.8 1366.8,1243.1 1368.8,1242.4 1370.8,1241.7 1372.8,1241.0 1374.8,1240.3 1376.8,1239.5 1378.8,1238.8 1380.8,1238.0 1382.8,1237.2 1384.8,1236.5 1386.8,1235.7 1388.8,1234.8 1390.8,1234.0 1392.8,1233.1 1394.8,1232.3 1396.8,1231.4 1398.8,1230.5 1400.8,1229.6 1402.8,1228.6 1404.8,1227.7 1406.8,1226.7 1408.8,1225.7 1410.8,1224.6 1412.8,1223.6 1414.8,1222.5 1416.8,1221.4 1418.8,1220.3 1420.8,1219.1 1422.8,1218.0 1424.8,1216.8 1426.8,1215.6 1428.8,1214.3 1430.8,1213.1 1432.8,1211.8 1434.8,1210.5 1436.8,1209.2 1438.8,1207.9 1440.8,1206.6 1442.8,1205.2 1444.8,1203.9 1446.8,1202.6 1448.8,1201.2 1450.8,1199.9 1452.8,1198.5 1454.8,1197.2 1456.8,1195.8 1458.8,1194.4 1460.8,1193.1 1462.8,1191.7 1464.8,1190.3 1466.8,1188.9 1468.8,1187.5 1470.8,1186.1 1472.8,1184.6 1474.8,1183.2 1476.8,1181.7 1478.8,1180.2 1480.8,1178.8 1482.8,1177.2 1484.8,1175.7 1486.8,1174.2 1488.8,1172.6 1490.8,1171.0 1492.8,1169.3 1494.8,1167.6 1496.8,1165.9 1498.8,1164.2 1500.8,1162.4 1502.8,1160.4 1504.8,1158.5 1506.8,1156.4 1508.8,1154.4 1510.8,1152.3 1512.8,1150.2 1514.8,1148.1 1516.8,1145.9 1518.8,1143.8 1520.8,1141.6 1522.8,1139.3 1524.8,1137.1 1526.8,1134.8 1528.8,1132.5 1530.8,1130.2 1532.8,1127.8 1534.8,1125.4 1536.8,1123.0 1538.8,1120.6 1540.8,1118.1 1542.8,1115.5 1544.8,1112.9 1546.8,1110.3 1548.8,1107.7 1550.8,1105.0 1552.8,1102.3 1554.8,1099.5 1556.8,1096.8 1558.8,1094.0 1560.8,1091.2 1562.8,1088.6 1564.8,1085.9 1566.8,1083.2 1568.8,1080.4 1570.8,1077.7 1572.8,1074.9 1574.8,1072.2 1576.8,1069.4 1578.8,1066.6 1580.8,1063.8 1582.8,1061.0 1584.8,1058.2 1586.8,1055.3 1588.8,1052.5 1590.8,1049.7 1592.8,1046.9 1594.8,1044.1 1596.8,1041.3 1598.8,1038.5 1600.8,1035.7 1602.8,1032.9 1604.8,1030.1 1606.8,1027.4 1608.8,1024.6 1610.8,1021.9 1612.8,1019.2 1614.8,1016.5 1616.8,1013.8 1618.8,1011.2 1620.8,1008.6 1622.8,1006.0 1624.8,1003.5 1626.8,1001.0 1628.8,998.5 1630.8,996.1 1632.8,993.7 1634.8,991.4 1636.8,989.1 1638.8,986.8 1640.8,984.5 1642.8,982.3 1644.8,980.2 1646.8,978.0 1648.8,975.9 1650.8,973.8 1652.8,971.7 1654.8,969.7 1656.8,967.7 1658.8,965.7 1660.8,963.7 1662.8,961.8 1664.8,959.9 1666.8,958.0 1668.8,956.2 1670.8,954.4 1672.8,952.6 1674.8,950.8 1676.8,949.1 1678.8,947.4 1680.8,945.7 1682.8,944.1 1684.8,942.5 1686.8,940.9 1688.8,939.3 1690.8,937.8 1692.8,936.3 1694.8,934.8 1696.8,933.3 1698.8,931.8 1700.8,930.5 1702.8,929.5 1704.8,928.5 1706.8,927.4 1708.8,926.4 1710.8,925.4 1712.8,924.4 1714.8,923.4 1716.8,922.4 1718.8,921.3 1720.8,920.2 1722.8,918.7 1724.8,917.3 1726.8,915.8 1728.8,914.4 1730.8,912.9 1732.8,911.4 1734.8,909.9 1736.8,908.4 1738.8,906.9 1740.8,905.3 1742.8,903.7 1744.8,902.1 1746.8,900.5 1748.8,898.8 1750.8,897.2 1752.8,895.5 1754.8,893.7 1756.8,892.0 1758.8,890.2 1760.8,888.4 1762.8,886.5 1764.8,884.6 1766.8,882.7 1768.8,880.8 1770.8,878.7 1772.8,876.7 1774.8,874.6 1776.8,872.4 1778.8,870.2 1780.8,867.9 1782.8,865.6 1784.8,863.2 1786.8,860.8 1788.8,858.3 1790.8,855.7 1792.8,853.0 1794.8,850.3 1796.8,847.5 1798.8,844.6 1800.8,841.6 1802.8,838.5 1804.8,835.4 1806.8,832.2 1808.8,828.9 1810.8,825.5 1812.8,822.1 1814.8,818.5 1816.8,814.9 1818.8,811.2 1820.8,807.4 1822.8,803.6 1824.8,799.7 1826.8,795.6 1828.8,791.6 1830.8,787.5 1832.8,783.3 1834.8,779.0 1836.8,774.8 1838.8,770.5 1840.8,766.1 1842.8,761.8 1844.8,757.4 1846.8,753.0 1848.8,748.6 1850.8,744.1 1852.8,739.4 1854.8,734.7 1856.8,729.9 1858.8,725.2 1860.8,720.4 1862.8,715.6 1864.8,710.7 1866.8,705.9 1868.8,701.0 1870.8,696.0 1872.8,691.1 1874.8,686.1 1876.8,681.0 1878.8,676.0 1880.8,671.0 1882.8,666.2 1884.8,661.3 1886.8,656.4 1888.8,651.5 1890.8,646.6 1892.8,641.6 1894.8,636.7 1896.8,631.7 1898.8,626.7 1900.8,621.7 1902.8,616.6 1904.8,611.5 1906.8,606.3 1908.8,601.1 1910.8,595.9 1912.8,590.6 1914.8,585.2 1916.8,579.8 1918.8,574.4 1920.8,568.9 1922.8,563.3 1924.8,557.8 1926.8,552.1 1928.8,546.4 1930.8,540.7 1932.8,534.9 1934.8,529.1 1936.8,523.2 1938.8,517.3 1940.8,511.4 1942.8,505.4 1944.8,499.3 1946.8,493.3 1948.8,487.1 1950.8,481.0 1952.8,474.8 1954.8,468.6 1956.8,462.3 1958.8,456.0 1960.8,449.7 1962.8,443.4 1964.8,437.0 1966.8,430.7 1968.8,424.3 1970.8,417.9 1972.8,411.5 1974.8,405.1 1976.8,398.7 1978.8,392.3 1980.8,385.9 1982.8,379.5 1984.8,373.1 1986.8,366.7 1988.8,360.4 1990.8,354.1 1992.8,347.8 1994.8,341.6 1996.8,335.4 1998.8,329.3 2000.8,323.3 2002.8,317.3 2004.8,311.3 2006.8,305.5 2008.8,299.7 2010.8,294.1 2012.8,288.5 2014.8,283.0 2016.8,277.6 2018.8,272.3 2020.8,267.1 2022.8,262.0 2024.8,257.0 2026.8,252.1 2028.8,247.3 2030.8,242.5 2032.8,237.9 2034.8,233.4 2036.8,229.0 2038.8,224.7 2040.8,220.5 2042.8,216.3 2044.8,212.2 2046.8,208.1 2048.8,204.0 2050.5,200.6 2075.0,160.0" fill="none" stroke="#000" stroke-width="14.6" stroke-linejoin="round" stroke-linecap="square"/>
<polyline clip-path="url(#c1)" points="1264.8,1267.1 1266.8,1266.7 1268.8,1266.2 1270.8,1265.8 1272.8,1265.4 1274.8,1264.9 1276.8,1264.5 1278.8,1264.1 1280.8,1263.6 1282.8,1263.2 1284.8,1262.7 1286.8,1262.3 1288.8,1261.9 1290.8,1261.4 1292.8,1261.0 1294.8,1260.5 1296.8,1260.1 1298.8,1259.6 1300.8,1259.1 1302.8,1258.7 1304.8,1258.2 1306.8,1257.7 1308.8,1257.2 1310.8,1256.8 1312.8,1256.3 1314.8,1255.8 1316.8,1255.3 1318.8,1254.8 1320.8,1254.3 1322.8,1253.7 1324.8,1253.2 1326.8,1252.7 1328.8,1252.2 1330.8,1251.6 1332.8,1251.1 1334.8,1250.5 1336.8,1250.0 1338.8,1249.4 1340.8,1248.8 1342.8,1248.2 1344.8,1247.6 1346.8,1247.0 1348.8,1246.4 1350.8,1245.8 1352.8,1245.2 1354.8,1244.6 1356.8,1243.9 1358.8,1243.3 1360.8,1242.6 1362.8,1242.0 1364.8,1241.3 1366.8,1240.6 1368.8,1239.9 1370.8,1239.2 1372.8,1238.5 1374.8,1237.8 1376.8,1237.0 1378.8,1236.3 1380.8,1235.5 1382.8,1234.7 1384.8,1234.0 1386.8,1233.2 1388.8,1232.3 1390.8,1231.5 1392.8,1230.6 1394.8,1229.8 1396.8,1228.9 1398.8,1228.0 1400.8,1227.1 1402.8,1226.1 1404.8,1225.2 1406.8,1224.2 1408.8,1223.2 1410.8,1222.1 1412.8,1221.1 1414.8,1220.0 1416.8,1218.9 1418.8,1217.8 1420.8,1216.6 1422.8,1215.5 1424.8,1214.3 1426.8,1213.1 1428.8,1211.8 1430.8,1210.6 1432.8,1209.3 1434.8,1208.0 1436.8,1206.7 1438.8,1205.4 1440.8,1204.1 1442.8,1202.7 1444.8,1201.4 1446.8,1200.1 1448.8,1198.7 1450.8,1197.4 1452.8,1196.0 1454.8,1194.7 1456.8,1193.3 1458.8,1191.9 1460.8,1190.6 1462.8,1189.2 1464.8,1187.8 1466.8,1186.4 1468.8,1185.0 1470.8,1183.6 1472.8,1182.1 1474.8,1180.7 1476.8,1179.2 1478.8,1177.7 1480.8,1176.3 1482.8,1174.7 1484.8,1173.2 1486.8,1171.7 1488.8,1170.1 1490.8,1168.5 1492.8,1166.8 1494.8,1165.1 1496.8,1163.4 1498.8,1161.7 1500.8,1159.9 1502.8,1158.1 1504.8,1156.3 1506.8,1154.4 1508.8,1152.5 1510.8,1150.5 1512.8,1148.5 1514.8,1146.5 1516.8,1144.5 1518.8,1142.4 1520.8,1140.4 1522.8,1138.2 1524.8,1136.1 1526.8,1134.0 1528.8,1131.8 1530.8,1129.6 1532.8,1127.3 1534.8,1125.1 1536.8,1122.8 1538.8,1120.5 1540.8,1118.2 1542.8,1115.8 1544.8,1113.4 1546.8,1111.0 1548.8,1108.6 1550.8,1106.1 1552.8,1103.6 1554.8,1101.0 1556.8,1098.5 1558.8,1095.9 1560.8,1093.2 1562.8,1090.6 1564.8,1087.9 1566.8,1085.2 1568.8,1082.4 1570.8,1079.7 1572.8,1076.9 1574.8,1074.2 1576.8,1071.4 1578.8,1068.6 1580.8,1065.8 1582.8,1063.0 1584.8,1060.2 1586.8,1057.3 1588.8,1054.5 1590.8,1051.7 1592.8,1048.9 1594.8,1046.1 1596.8,1043.3 1598.8,1040.5 1600.8,1037.7 1602.8,1034.9 1604.8,1032.1 1606.8,1029.4 1608.8,1026.6 1610.8,1023.9 1612.8,1021.2 1614.8,1018.5 1616.8,1015.8 1618.8,1013.2 1620.8,1010.6 1622.8,1008.0 1624.8,1005.5 1626.8,1003.0 1628.8,1000.5 1630.8,998.1 1632.8,995.7 1634.8,993.4 1636.8,991.1 1638.8,988.8 1640.8,986.5 1642.8,984.3 1644.8,982.2 1646.8,980.0 1648.8,977.9 1650.8,975.8 1652.8,973.7 1654.8,971.7 1656.8,969.7 1658.8,967.7 1660.8,965.7 1662.8,963.8 1664.8,961.9 1666.8,960.0 1668.8,958.2 1670.8,956.4 1672.8,954.6 1674.8,952.8 1676.8,951.1 1678.8,949.4 1680.8,947.7 1682.8,946.1 1684.8,944.5 1686.8,942.9 1688.8,941.3 1690.8,939.8 1692.8,938.3 1694.8,936.8 1696.8,935.3 1698.8,933.8 1700.8,932.4 1702.8,930.9 1704.8,929.5 1706.8,928.1 1708.8,926.7 1710.8,925.2 1712.8,923.8 1714.8,922.4 1716.8,921.0 1718.8,919.6 1720.8,918.2 1722.8,916.7 1724.8,915.3 1726.8,913.8 1728.8,912.4 1730.8,910.9 1732.8,909.4 1734.8,907.9 1736.8,906.4 1738.8,904.9 1740.8,903.3 1742.8,901.7 1744.8,900.1 1746.8,898.5 1748.8,896.8 1750.8,895.2 1752.8,893.5 1754.8,891.7 1756.8,890.0 1758.8,888.2 1760.8,886.4 1762.8,884.5 1764.8,882.6 1766.8,880.7 1768.8,878.8 1770.8,876.7 1772.8,874.7 1774.8,872.6 1776.8,870.4 1778.8,868.2 1780.8,865.9 1782.8,863.6 1784.8,861.2 1786.8,858.8 1788.8,856.3 1790.8,853.7 1792.8,851.0 1794.8,848.3 1796.8,845.5 1798.8,842.6 1800.8,839.6 1802.8,836.5 1804.8,833.4 1806.8,830.2 1808.8,826.9 1810.8,823.5 1812.8,820.1 1814.8,816.5 1816.8,812.9 1818.8,809.2 1820.8,805.4 1822.8,801.6 1824.8,797.7 1826.8,793.6 1828.8,789.6 1830.8,785.5 1832.8,781.3 1834.8,777.0 1836.8,772.8 1838.8,768.5 1840.8,764.1 1842.8,759.8 1844.8,755.4 1846.8,751.0 1848.8,746.6 1850.8,742.2 1852.8,737.7 1854.8,733.2 1856.8,728.7 1858.8,724.2 1860.8,719.7 1862.8,715.1 1864.8,710.5 1866.8,705.8 1868.8,701.2 1870.8,696.4 1872.8,691.7 1874.8,687.0 1876.8,682.2 1878.8,677.4 1880.8,672.5 1882.8,667.7 1884.8,662.8 1886.8,657.9 1888.8,653.0 1890.8,648.1 1892.8,643.1 1894.8,638.2 1896.8,633.2 1898.8,628.2 1900.8,623.2 1902.8,618.1 1904.8,613.0 1906.8,607.8 1908.8,602.6 1910.8,597.4 1912.8,592.1 1914.8,586.7 1916.8,581.3 1918.8,575.9 1920.8,570.4 1922.8,564.8 1924.8,559.3 1926.8,553.6 1928.8,547.9 1930.8,542.2 1932.8,536.4 1934.8,530.6 1936.8,524.7 1938.8,518.8 1940.8,512.9 1942.8,506.9 1944.8,500.8 1946.8,494.8 1948.8,488.6 1950.8,482.5 1952.8,476.3 1954.8,470.1 1956.8,463.8 1958.8,457.5 1960.8,451.2 1962.8,444.9 1964.8,438.5 1966.8,432.2 1968.8,425.8 1970.8,419.4 1972.8,413.0 1974.8,406.6 1976.8,400.2 1978.8,393.8 1980.8,387.4 1982.8,381.0 1984.8,374.6 1986.8,368.2 1988.8,361.9 1990.8,355.6 1992.8,349.3 1994.8,343.1 1996.8,336.9 1998.8,330.8 2000.8,324.8 2002.8,318.8 2004.8,312.8 2006.8,307.0 2008.8,301.2 2010.8,295.6 2012.8,290.0 2014.8,284.5 2016.8,279.1 2018.8,273.8 2020.8,268.6 2022.8,263.5 2024.8,258.5 2026.8,253.6 2028.8,248.8 2030.8,244.0 2032.8,239.4 2034.8,234.9 2036.8,230.5 2038.8,226.2 2040.8,222.0 2042.8,217.8 2044.8,213.7 2046.8,209.6 2048.8,205.5 2050.5,202.1" fill="none" stroke="#f00" stroke-width="14.6" stroke-linejoin="round" stroke-linecap="square"/>
<polyline clip-path="url(#c1)" points="1264.8,1312.6 1266.8,1312.6 1268.8,1312.6 1270.8,1312.6 1272.8,1312.6 1274.8,1312.6 1276.8,1312.6 1278.8,1312.6 1280.8,1312.6 1282.8,1312.6 1284.8,1312.6 1286.8,1312.6 1288.8,1312.6 1290.8,1312.6 1292.8,1312.6 1294.8,1312.6 1296.8,1312.6 1298.8,1312.6 1300.8,1312.6 1302.8,1312.6 1304.8,1312.6 1306.8,1312.6 1308.8,1312.6 1310.8,1312.7 1312.8,1312.7 1314.8,1312.7 1316.8,1312.7 1318.8,1312.7 1320.8,1312.7 1322.8,1312.7 1324.8,1312.7 1326.8,1312.7 1328.8,1312.7 1330.8,1312.7 1332.8,1312.7 1334.8,1312.7 1336.8,1312.7 1338.8,1312.6 1340.8,1312.6 1342.8,1312.6 1344.8,1312.6 1346.8,1312.6 1348.8,1312.6 1350.8,1312.6 1352.8,1312.5 1354.8,1312.5 1356.8,1312.5 1358.8,1312.5 1360.8,1312.4 1362.8,1312.4 1364.8,1312.3 1366.8,1312.3 1368.8,1312.3 1370.8,1312.2 1372.8,1312.1 1374.8,1312.1 1376.8,1312.0 1378.8,1312.0 1380.8,1311.9 1382.8,1311.8 1384.8,1311.7 1386.8,1311.7 1388.8,1311.6 1390.8,1311.5 1392.8,1311.4 1394.8,1311.3 1396.8,1311.2 1398.8,1311.2 1400.8,1311.1 1402.8,1311.0 1404.8,1310.9 1406.8,1310.8 1408.8,1310.7 1410.8,1310.6 1412.8,1310.5 1414.8,1310.4 1416.8,1310.3 1418.8,1310.2 1420.8,1310.1 1422.8,1310.0 1424.8,1309.9 1426.8,1309.8 1428.8,1309.7 1430.8,1309.6 1432.8,1309.5 1434.8,1309.4 1436.8,1309.3 1438.8,1309.2 1440.8,1309.1 1442.8,1309.0 1444.8,1308.9 1446.8,1308.8 1448.8,1308.6 1450.8,1308.5 1452.8,1308.4 1454.8,1308.3 1456.8,1308.1 1458.8,1308.0 1460.8,1307.8 1462.8,1307.7 1464.8,1307.5 1466.8,1307.4 1468.8,1307.2 1470.8,1307.0 1472.8,1306.8 1474.8,1306.6 1476.8,1306.4 1478.8,1306.2 1480.8,1306.0 1482.8,1305.8 1484.8,1305.6 1486.8,1305.4 1488.8,1305.1 1490.8,1304.9 1492.8,1304.6 1494.8,1304.3 1496.8,1304.1 1498.8,1303.8 1500.8,1303.5 1502.8,1303.2 1504.8,1302.9 1506.8,1302.6 1508.8,1302.2 1510.8,1301.9 1512.8,1301.5 1514.8,1301.2 1516.8,1300.8 1518.8,1300.4 1520.8,1300.1 1522.8,1299.7 1524.8,1299.3 1526.8,1298.8 1528.8,1298.4 1530.8,1298.0 1532.8,1297.5 1534.8,1297.1 1536.8,1296.6 1538.8,1296.1 1540.8,1295.6 1542.8,1295.1 1544.8,1294.6 1546.8,1294.1 1548.8,1293.5 1550.8,1293.0 1552.8,1292.4 1554.8,1291.9 1556.8,1291.3 1558.8,1290.7 1560.8,1290.1 1562.8,1289.5 1564.8,1288.9 1566.8,1288.3 1568.8,1287.6 1570.8,1287.0 1572.8,1286.3 1574.8,1285.7 1576.8,1285.0 1578.8,1284.3 1580.8,1283.6 1582.8,1282.9 1584.8,1282.2 1586.8,1281.5 1588.8,1280.7 1590.8,1280.0 1592.8,1279.2 1594.8,1278.4 1596.8,1277.6 1598.8,1276.8 1600.8,1275.9 1602.8,1275.1 1604.8,1274.2 1606.8,1273.3 1608.8,1272.4 1610.8,1271.5 1612.8,1270.5 1614.8,1269.6 1616.8,1268.6 1618.8,1267.6 1620.8,1266.5 1622.8,1265.5 1624.8,1264.4 1626.8,1263.3 1628.8,1262.2 1630.8,1261.0 1632.8,1259.9 1634.8,1258.7 1636.8,1257.5 1638.8,1256.3 1640.8,1255.0 1642.8,1253.8 1644.8,1252.5 1646.8,1251.1 1648.8,1249.8 1650.8,1248.4 1652.8,1247.0 1654.8,1245.6 1656.8,1244.1 1658.8,1242.6 1660.8,1241.0 1662.8,1239.5 1664.8,1237.8 1666.8,1236.2 1668.8,1234.5 1670.8,1232.7 1672.8,1231.0 1674.8,1229.1 1676.8,1227.3 1678.8,1225.4 1680.8,1223.4 1682.8,1221.4 1684.8,1219.3 1686.8,1217.2 1688.8,1215.0 1690.8,1212.8 1692.8,1210.5 1694.8,1208.2 1696.8,1205.9 1698.8,1203.5 1700.8,1201.0 1702.8,1198.5 1704.8,1196.0 1706.8,1193.5 1708.8,1190.9 1710.8,1188.3 1712.8,1185.7 1714.8,1183.0 1716.8,1180.3 1718.8,1177.6 1720.8,1174.9 1722.8,1172.1 1724.8,1169.3 1726.8,1166.4 1728.8,1163.5 1730.8,1160.5 1732.8,1157.5 1734.8,1154.4 1736.8,1151.3 1738.8,1148.2 1740.8,1144.9 1742.8,1141.7 1744.8,1138.3 1746.8,1134.9 1748.8,1131.5 1750.8,1128.0 1752.8,1124.4 1754.8,1120.8 1756.8,1117.2 1758.8,1113.5 1760.8,1109.7 1762.8,1105.9 1764.8,1102.0 1766.8,1098.1 1768.8,1094.1 1770.8,1090.2 1772.8,1086.2 1774.8,1082.1 1776.8,1078.1 1778.8,1074.0 1780.8,1069.9 1782.8,1065.8 1784.8,1061.7 1786.8,1057.5 1788.8,1053.3 1790.8,1049.0 1792.8,1044.7 1794.8,1040.3 1796.8,1035.8 1798.8,1031.3 1800.8,1026.7 1802.8,1022.0 1804.8,1017.2 1806.8,1012.3 1808.8,1007.4 1810.8,1002.4 1812.8,997.3 1814.8,992.1 1816.8,986.8 1818.8,981.5 1820.8,976.1 1822.8,970.6 1824.8,965.0 1826.8,959.4 1828.8,953.7 1830.8,947.9 1832.8,942.1 1834.8,936.2 1836.8,930.3 1838.8,924.3 1840.8,918.2 1842.8,912.1 1844.8,905.9 1846.8,899.6 1848.8,893.4 1850.8,887.0 1852.8,880.6 1854.8,874.2 1856.8,867.7 1858.8,861.1 1860.8,854.5 1862.8,847.9 1864.8,841.2 1866.8,834.4 1868.8,827.6 1870.8,820.8 1872.8,813.9 1874.8,807.0 1876.8,800.1 1878.8,793.2 1880.8,786.2 1882.8,779.2 1884.8,772.3 1886.8,765.3 1888.8,758.4 1890.8,751.4 1892.8,744.5 1894.8,737.7 1896.8,730.9 1898.8,724.1 1900.8,717.4 1902.8,710.8 1904.8,704.2 1906.8,697.7 1908.8,691.3 1910.8,684.9 1912.8,678.7 1914.8,672.5 1916.8,666.4 1918.8,660.3 1920.8,654.4 1922.8,648.4 1924.8,642.5 1926.8,636.7 1928.8,630.8 1930.8,625.0 1932.8,619.2 1934.8,613.5 1936.8,607.7 1938.8,601.8 1940.8,596.0 1942.8,590.1 1944.8,584.1 1946.8,578.1 1948.8,572.1 1950.8,566.0 1952.8,559.9 1954.8,553.8 1956.8,547.6 1958.8,541.4 1960.8,535.1 1962.8,528.8 1964.8,522.5 1966.8,516.1 1968.8,509.7 1970.8,503.3 1972.8,496.9 1974.8,490.4 1976.8,483.9 1978.8,477.3 1980.8,470.8 1982.8,464.2 1984.8,457.6 1986.8,451.0 1988.8,444.4 1990.8,437.8 1992.8,431.2 1994.8,424.6 1996.8,418.0 1998.8,411.5 2000.8,404.9 2002.8,398.4 2004.8,391.9 2006.8,385.4 2008.8,379.0 2010.8,372.5 2012.8,366.2 2014.8,359.9 2016.8,353.6 2018.8,347.4 2020.8,341.2 2022.8,335.1 2024.8,329.0 2026.8,323.0 2028.8,317.1 2030.8,311.2 2032.8,305.4 2034.8,299.7 2036.8,294.0 2038.8,288.5 2040.8,283.0 2042.8,277.5 2044.8,272.1 2046.8,266.7 2048.8,261.3 2050.8,255.9 2051.0,255.4" fill="none" stroke="#008000" stroke-width="14.6" stroke-linejoin="round" stroke-linecap="square"/>
<polyline clip-path="url(#c1)" points="1264.8,1267.6 1266.8,1267.3 1268.8,1266.9 1270.8,1266.6 1272.8,1266.2 1274.8,1265.9 1276.8,1265.5 1278.8,1265.2 1280.8,1264.8 1282.8,1264.5 1284.8,1264.1 1286.8,1263.7 1288.8,1263.4 1290.8,1263.0 1292.8,1262.6 1294.8,1262.2 1296.8,1261.8 1298.8,1261.4 1300.8,1261.0 1302.8,1260.6 1304.8,1260.1 1306.8,1259.7 1308.8,1259.3 1310.8,1258.8 1312.8,1258.4 1314.8,1257.9 1316.8,1257.4 1318.8,1257.0 1320.8,1256.5 1322.8,1256.0 1324.8,1255.5 1326.8,1255.0 1328.8,1254.5 1330.8,1254.0 1332.8,1253.5 1334.8,1252.9 1336.8,1252.4 1338.8,1251.8 1340.8,1251.2 1342.8,1250.6 1344.8,1250.0 1346.8,1249.3 1348.8,1248.7 1350.8,1248.1 1352.8,1247.4 1354.8,1246.7 1356.8,1246.1 1358.8,1245.4 1360.8,1244.7 1362.8,1244.0 1364.8,1243.3 1366.8,1242.5 1368.8,1241.8 1370.8,1241.1 1372.8,1240.4 1374.8,1239.6 1376.8,1238.9 1378.8,1238.1 1380.8,1237.3 1382.8,1236.5 1384.8,1235.8 1386.8,1235.0 1388.8,1234.2 1390.8,1233.4 1392.8,1232.5 1394.8,1231.7 1396.8,1230.9 1398.8,1230.0 1400.8,1229.1 1402.8,1228.3 1404.8,1227.4 1406.8,1226.5 1408.8,1225.6 1410.8,1224.7 1412.8,1223.7 1414.8,1222.8 1416.8,1221.8 1418.8,1220.8 1420.8,1219.9 1422.8,1218.9 1424.8,1217.8 1426.8,1216.8 1428.8,1215.8 1430.8,1214.7 1432.8,1213.6 1434.8,1212.6 1436.8,1211.5 1438.8,1210.4 1440.8,1209.2 1442.8,1208.1 1444.8,1206.9 1446.8,1205.8 1448.8,1204.6 1450.8,1203.4 1452.8,1202.2 1454.8,1200.9 1456.8,1199.7 1458.8,1198.5 1460.8,1197.2 1462.8,1195.9 1464.8,1194.6 1466.8,1193.3 1468.8,1192.0 1470.8,1190.6 1472.8,1189.2 1474.8,1187.9 1476.8,1186.5 1478.8,1185.1 1480.8,1183.6 1482.8,1182.2 1484.8,1180.7 1486.8,1179.3 1488.8,1177.8 1490.8,1176.2 1492.8,1174.7 1494.8,1173.1 1496.8,1171.6 1498.8,1170.0 1500.8,1168.3 1502.8,1166.7 1504.8,1165.0 1506.8,1163.3 1508.8,1161.6 1510.8,1159.9 1512.8,1158.1 1514.8,1156.4 1516.8,1154.6 1518.8,1152.9 1520.8,1151.1 1522.8,1149.3 1524.8,1147.5 1526.8,1145.8 1528.8,1144.0 1530.8,1142.2 1532.8,1140.4 1534.8,1138.6 1536.8,1136.8 1538.8,1135.0 1540.8,1133.1 1542.8,1131.3 1544.8,1129.4 1546.8,1127.6 1548.8,1125.7 1550.8,1123.8 1552.8,1121.9 1554.8,1119.9 1556.8,1118.0 1558.8,1116.0 1560.8,1114.0 1562.8,1111.9 1564.8,1109.9 1566.8,1107.8 1568.8,1105.7 1570.8,1103.7 1572.8,1101.6 1574.8,1099.5 1576.8,1097.4 1578.8,1095.3 1580.8,1093.2 1582.8,1091.2 1584.8,1089.2 1586.8,1087.1 1588.8,1085.2 1590.8,1083.2 1592.8,1081.3 1594.8,1079.4 1596.8,1077.5 1598.8,1075.6 1600.8,1073.8 1602.8,1072.1 1604.8,1070.3 1606.8,1068.6 1608.8,1066.9 1610.8,1065.2 1612.8,1063.6 1614.8,1062.0 1616.8,1060.4 1618.8,1058.9 1620.8,1057.4 1622.8,1056.0 1624.8,1054.5 1626.8,1053.2 1628.8,1051.8 1630.8,1050.6 1632.8,1049.3 1634.8,1048.1 1636.8,1047.0 1638.8,1045.9 1640.8,1044.9 1642.8,1043.9 1644.8,1043.0 1646.8,1042.2 1648.8,1041.4 1650.8,1040.6 1652.8,1040.0 1654.8,1039.3 1656.8,1038.8 1658.8,1038.3 1660.8,1037.8 1662.8,1037.4 1664.8,1037.0 1666.8,1036.8 1668.8,1036.5 1670.8,1036.3 1672.8,1036.2 1674.8,1036.2 1676.8,1036.2 1678.8,1036.3 1680.8,1036.4 1682.8,1036.6 1684.8,1036.9 1686.8,1037.3 1688.8,1037.7 1690.8,1038.2 1692.8,1038.8 1694.8,1039.5 1696.8,1040.3 1698.8,1041.1 1700.8,1042.0 1702.8,1043.0 1704.8,1044.0 1706.8,1045.1 1708.8,1046.3 1710.8,1047.5 1712.8,1048.8 1714.8,1050.2 1716.8,1051.6 1718.8,1053.0 1720.8,1054.6 1722.8,1056.1 1724.8,1057.7 1726.8,1059.3 1728.8,1061.0 1730.8,1062.7 1732.8,1064.4 1734.8,1066.2 1736.8,1067.9 1738.8,1069.7 1740.8,1071.4 1742.8,1073.2 1744.8,1075.0 1746.8,1076.8 1748.8,1078.5 1750.8,1080.3 1752.8,1082.1 1754.8,1083.9 1756.8,1085.6 1758.8,1087.4 1760.8,1089.2 1762.8,1091.0 1764.8,1092.8 1766.8,1094.6 1768.8,1096.4 1770.8,1098.3 1772.8,1100.1 1774.8,1101.9 1776.8,1103.8 1778.8,1105.6 1780.8,1107.5 1782.8,1109.3 1784.8,1111.2 1786.8,1113.0 1788.8,1114.9 1790.8,1116.8 1792.8,1118.6 1794.8,1120.5 1796.8,1122.4 1798.8,1124.3 1800.8,1126.1 1802.8,1128.0 1804.8,1129.9 1806.8,1131.8 1808.8,1133.7 1810.8,1135.5 1812.8,1137.4 1814.8,1139.3 1816.8,1141.1 1818.8,1143.0 1820.8,1144.9 1822.8,1146.7 1824.8,1148.6 1826.8,1150.4 1828.8,1152.2 1830.8,1154.1 1832.8,1155.9 1834.8,1157.7 1836.8,1159.5 1838.8,1161.3 1840.8,1163.0 1842.8,1164.8 1844.8,1166.5 1846.8,1168.2 1848.8,1169.9 1850.8,1171.6 1852.8,1173.2 1854.8,1174.9 1856.8,1176.5 1858.8,1178.1 1860.8,1179.6 1862.8,1181.2 1864.8,1182.7 1866.8,1184.2 1868.8,1185.7 1870.8,1187.1 1872.8,1188.5 1874.8,1189.9 1876.8,1191.3 1878.8,1192.7 1880.8,1194.0 1882.8,1195.3 1884.8,1196.6 1886.8,1197.9 1888.8,1199.1 1890.8,1200.4 1892.8,1201.6 1894.8,1202.8 1896.8,1204.0 1898.8,1205.2 1900.8,1206.4 1902.8,1207.6 1904.8,1208.8 1906.8,1210.0 1908.8,1211.1 1910.8,1212.3 1912.8,1213.4 1914.8,1214.6 1916.8,1215.7 1918.8,1216.8 1920.8,1217.9 1922.8,1218.9 1924.8,1220.0 1926.8,1221.0 1928.8,1222.0 1930.8,1223.0 1932.8,1224.0 1934.8,1225.0 1936.8,1225.9 1938.8,1226.8 1940.8,1227.8 1942.8,1228.7 1944.8,1229.6 1946.8,1230.5 1948.8,1231.3 1950.8,1232.2 1952.8,1233.0 1954.8,1233.9 1956.8,1234.7 1958.8,1235.5 1960.8,1236.3 1962.8,1237.1 1964.8,1237.9 1966.8,1238.7 1968.8,1239.5 1970.8,1240.3 1972.8,1241.0 1974.8,1241.8 1976.8,1242.5 1978.8,1243.2 1980.8,1243.9 1982.8,1244.7 1984.8,1245.4 1986.8,1246.0 1988.8,1246.7 1990.8,1247.4 1992.8,1248.0 1994.8,1248.7 1996.8,1249.3 1998.8,1249.9 2000.8,1250.5 2002.8,1251.1 2004.8,1251.7 2006.8,1252.2 2008.8,1252.8 2010.8,1253.3 2012.8,1253.8 2014.8,1254.3 2016.8,1254.8 2018.8,1255.2 2020.8,1255.7 2022.8,1256.2 2024.8,1256.6 2026.8,1257.0 2028.8,1257.4 2030.8,1257.8 2032.8,1258.2 2034.8,1258.6 2036.8,1258.9 2038.8,1259.3 2040.8,1259.7 2042.8,1260.0 2044.8,1260.4 2046.8,1260.7 2048.8,1261.1 2050.0,1261.3" fill="none" stroke="#00f" stroke-width="14.6" stroke-linejoin="round" stroke-linecap="square"/>
<rect x="231.2" y="69.3" width="799.8" height="1301.2" fill="none" stroke="#000" stroke-width="3.9"/>
<line x1="214.0" y1="1313.0" x2="231.2" y2="1313.0" stroke="#000" stroke-width="3.9"/>
<line x1="214.0" y1="1086.9" x2="231.2" y2="1086.9" stroke="#000" stroke-width="3.9"/>
<line x1="214.0" y1="860.8" x2="231.2" y2="860.8" stroke="#000" stroke-width="3.9"/>
<line x1="214.0" y1="634.7" x2="231.2" y2="634.7" stroke="#000" stroke-width="3.9"/>
<line x1="214.0" y1="408.6" x2="231.2" y2="408.6" stroke="#000" stroke-width="3.9"/>
<line x1="214.0" y1="182.5" x2="231.2" y2="182.5" stroke="#000" stroke-width="3.9"/>
<line x1="231.2" y1="1370.5" x2="231.2" y2="1387.7" stroke="#000" stroke-width="3.9"/>
<line x1="550.7" y1="1370.5" x2="550.7" y2="1387.7" stroke="#000" stroke-width="3.9"/>
<line x1="870.2" y1="1370.5" x2="870.2" y2="1387.7" stroke="#000" stroke-width="3.9"/>
<rect x="1264.8" y="69.3" width="799.4" height="1301.2" fill="none" stroke="#000" stroke-width="3.9"/>
<line x1="1247.6" y1="1313.0" x2="1264.8" y2="1313.0" stroke="#000" stroke-width="3.9"/>
<line x1="1247.6" y1="1086.9" x2="1264.8" y2="1086.9" stroke="#000" stroke-width="3.9"/>
<line x1="1247.6" y1="860.8" x2="1264.8" y2="860.8" stroke="#000" stroke-width="3.9"/>
<line x1="1247.6" y1="634.7" x2="1264.8" y2="634.7" stroke="#000" stroke-width="3.9"/>
<line x1="1247.6" y1="408.6" x2="1264.8" y2="408.6" stroke="#000" stroke-width="3.9"/>
<line x1="1247.6" y1="182.5" x2="1264.8" y2="182.5" stroke="#000" stroke-width="3.9"/>
<line x1="1264.8" y1="1370.5" x2="1264.8" y2="1387.7" stroke="#000" stroke-width="3.9"/>
<line x1="1584.3" y1="1370.5" x2="1584.3" y2="1387.7" stroke="#000" stroke-width="3.9"/>
<line x1="1903.8" y1="1370.5" x2="1903.8" y2="1387.7" stroke="#000" stroke-width="3.9"/>
<line x1="282.6" y1="121.2" x2="406.0" y2="121.2" stroke="#000" stroke-width="7.3"/>
<line x1="282.6" y1="197.8" x2="406.0" y2="197.8" stroke="#f00" stroke-width="7.3"/>
<line x1="282.6" y1="274.2" x2="406.0" y2="274.2" stroke="#008000" stroke-width="7.3"/>
<line x1="282.6" y1="350.4" x2="406.0" y2="350.4" stroke="#00f" stroke-width="7.3"/>
<text transform="translate(223.47,46.90) scale(0.6880,0.6522)" font-weight="normal" xml:space="preserve">(a) Nb perovskite</text>
<text transform="translate(1248.50,46.90) scale(0.6834,0.6522)" font-weight="normal" xml:space="preserve">(b) Columbite-(Mn)</text>
<text transform="translate(413.36,137.60) scale(0.6169,0.6072)" font-weight="normal" xml:space="preserve">Exp.</text>
<text transform="translate(413.57,218.40) scale(0.5912,0.5884)" font-weight="normal" xml:space="preserve">Fit</text>
<text transform="translate(413.34,294.50) scale(0.6202,0.5928)" font-weight="normal" xml:space="preserve">Baseline</text>
<text transform="translate(413.41,366.60) scale(0.6110,0.6014)" font-weight="normal" xml:space="preserve">PseudoVoigt</text>
<text transform="translate(98.94,1335.80) scale(0.6893,0.6348)" font-weight="normal" xml:space="preserve">0.0</text>
<text transform="translate(98.92,1109.70) scale(0.6946,0.6348)" font-weight="normal" xml:space="preserve">0.2</text>
<text transform="translate(98.96,883.60) scale(0.6841,0.6348)" font-weight="normal" xml:space="preserve">0.4</text>
<text transform="translate(98.94,657.50) scale(0.6893,0.6348)" font-weight="normal" xml:space="preserve">0.6</text>
<text transform="translate(98.94,431.40) scale(0.6893,0.6348)" font-weight="normal" xml:space="preserve">0.8</text>
<text transform="translate(98.99,205.30) scale(0.6890,0.6348)" font-weight="normal" xml:space="preserve">1.0</text>
<text transform="translate(126.15,1449.20) scale(0.6808,0.6333)" font-weight="normal" xml:space="preserve">18</text>
<text transform="translate(211.69,1449.20) scale(0.7025,0.6333)" font-weight="normal" xml:space="preserve">970</text>
<text transform="translate(445.65,1449.20) scale(0.6808,0.6333)" font-weight="normal" xml:space="preserve">18</text>
<text transform="translate(531.19,1449.20) scale(0.7025,0.6333)" font-weight="normal" xml:space="preserve">980</text>
<text transform="translate(765.15,1449.20) scale(0.6808,0.6333)" font-weight="normal" xml:space="preserve">18</text>
<text transform="translate(850.69,1449.20) scale(0.7025,0.6333)" font-weight="normal" xml:space="preserve">990</text>
<text transform="translate(447.00,1526.60) scale(0.6869,0.6319)" font-weight="normal" xml:space="preserve">Energy (eV)</text>
<text transform="translate(1132.54,1335.80) scale(0.6893,0.6348)" font-weight="normal" xml:space="preserve">0.0</text>
<text transform="translate(1132.52,1109.70) scale(0.6946,0.6348)" font-weight="normal" xml:space="preserve">0.2</text>
<text transform="translate(1132.56,883.60) scale(0.6841,0.6348)" font-weight="normal" xml:space="preserve">0.4</text>
<text transform="translate(1132.54,657.50) scale(0.6893,0.6348)" font-weight="normal" xml:space="preserve">0.6</text>
<text transform="translate(1132.54,431.40) scale(0.6893,0.6348)" font-weight="normal" xml:space="preserve">0.8</text>
<text transform="translate(1132.59,205.30) scale(0.6890,0.6348)" font-weight="normal" xml:space="preserve">1.0</text>
<text transform="translate(1159.75,1449.20) scale(0.6808,0.6333)" font-weight="normal" xml:space="preserve">18</text>
<text transform="translate(1245.29,1449.20) scale(0.7025,0.6333)" font-weight="normal" xml:space="preserve">970</text>
<text transform="translate(1479.25,1449.20) scale(0.6808,0.6333)" font-weight="normal" xml:space="preserve">18</text>
<text transform="translate(1564.79,1449.20) scale(0.7025,0.6333)" font-weight="normal" xml:space="preserve">980</text>
<text transform="translate(1798.75,1449.20) scale(0.6808,0.6333)" font-weight="normal" xml:space="preserve">18</text>
<text transform="translate(1884.29,1449.20) scale(0.7025,0.6333)" font-weight="normal" xml:space="preserve">990</text>
<text transform="translate(1480.60,1526.60) scale(0.6869,0.6319)" font-weight="normal" xml:space="preserve">Energy (eV)</text>
<text transform="translate(250.41,470.00) scale(0.5242,0.4855)" font-weight="normal" xml:space="preserve">Distortion Index: 0.5 %</text>
<text transform="translate(1281.10,446.90) scale(0.5249,0.5014)" font-weight="normal" xml:space="preserve">Distortion Index: 6 %</text>
<text transform="translate(437.99,752.50) scale(0.6869,0.6275)" font-weight="bold" xml:space="preserve">Nb</text>
<text transform="translate(1476.22,677.50) scale(0.7402,0.6710)" font-weight="bold" xml:space="preserve">Nb</text>
<text transform="translate(47.00,1073.60) rotate(-90) scale(0.6860,0.6536) translate(-8.00,0)" xml:space="preserve">Normalized Absorbance</text>
</svg></body></html>
